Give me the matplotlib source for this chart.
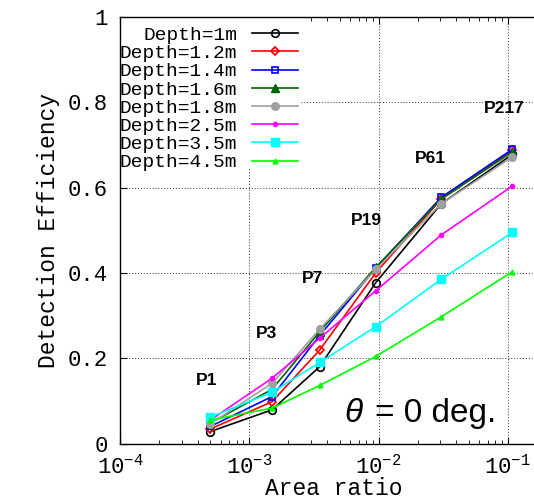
import math
import matplotlib
matplotlib.use("Agg")
import matplotlib.pyplot as plt
from matplotlib.ticker import LogLocator, FixedLocator, FuncFormatter, NullFormatter
from matplotlib.patches import Rectangle

# ---------------- data ----------------
pixel_counts = [1, 3, 7, 19, 61, 217]
area_ratio = [5.0e-4, 1.5e-3, 3.5e-3, 9.5e-3, 3.05e-2, 1.085e-1]
point_labels = ["P1", "P3", "P7", "P19", "P61", "P217"]
label_x = [4.7e-4, 1.35e-3, 3.06e-3, 8.0e-3, 2.5e-2, 9.4e-2]
label_y = [0.147, 0.257, 0.387, 0.524, 0.669, 0.786]

depth_labels = ["Depth=1m", "Depth=1.2m", "Depth=1.4m", "Depth=1.6m",
                "Depth=1.8m", "Depth=2.5m", "Depth=3.5m", "Depth=4.5m"]
eff_1m  = [0.028, 0.079, 0.180, 0.377, 0.562, 0.678]
eff_12m = [0.034, 0.098, 0.219, 0.400, 0.573, 0.687]
eff_14m = [0.040, 0.110, 0.253, 0.411, 0.577, 0.690]
eff_16m = [0.048, 0.127, 0.262, 0.413, 0.573, 0.684]
eff_18m = [0.046, 0.141, 0.268, 0.408, 0.562, 0.672]
eff_25m = [0.055, 0.153, 0.247, 0.358, 0.489, 0.604]
eff_35m = [0.062, 0.120, 0.190, 0.274, 0.385, 0.495]
eff_45m = [0.055, 0.083, 0.136, 0.204, 0.297, 0.403]
series = [eff_1m, eff_12m, eff_14m, eff_16m, eff_18m, eff_25m, eff_35m, eff_45m]

y_ticks = [0, 0.2, 0.4, 0.6, 0.8, 1]
y_ticklabels = ["0", "0.2", "0.4", "0.6", "0.8", "1"]
x_ticks = [1e-4, 1e-3, 1e-2, 1e-1]

# ---------------- styles ----------------
styles = [
    dict(color="black", marker="o", mfc="none", ms=5.5, mew=1.2),
    dict(color="#ff0000", marker="D", mfc="none", ms=4.5, mew=1.3),
    dict(color="#0000ff", marker="s", mfc="none", ms=5, mew=1.2),
    dict(color="#006400", marker="^", mfc="#006400", ms=5.5, mew=1),
    dict(color="#a0a0a0", marker="o", mfc="#a0a0a0", ms=5.5, mew=1),
    dict(color="#ff00ff", marker="o", mfc="#ff00ff", ms=3, mew=1),
    dict(color="#00ffff", marker="s", mfc="#00ffff", ms=5.5, mew=1),
    dict(color="#00ff00", marker="^", mfc="#00ff00", ms=3.5, mew=1),
]

mono = "Liberation Mono"
sans = "Liberation Sans"
plt.rcParams["font.family"] = [mono, "DejaVu Sans"]
plt.rcParams["mathtext.fontset"] = "custom"
plt.rcParams["mathtext.rm"] = mono
plt.rcParams["mathtext.default"] = "rm"

fig = plt.figure(figsize=(5.34, 5.03), dpi=100)
W, H = 534.0, 503.0
ax_left_px, ax_bottom_px, ax_top_px = 120.0, 443.5, 17.0
ax_w_px = 426.8
ax = fig.add_axes([ax_left_px / W, (H - ax_bottom_px) / H,
                   ax_w_px / W, (ax_bottom_px - ax_top_px) / H])

ax.set_xscale("log")
ax.set_xlim(1e-4, 0.2)
ax.set_ylim(0, 1)

ax.grid(True, which="major", color="#333333", linestyle=(0, (1, 2)), linewidth=0.7)

# white box behind legend (covers grid)
ax.add_patch(Rectangle((0, 0.646), 0.422, 0.36, transform=ax.transAxes,
                       facecolor="white", edgecolor="none", zorder=1.6))

for ys, lab, st in zip(series, depth_labels, styles):
    ax.plot(area_ratio, ys, label=lab, lw=1.2, color=st["color"], marker=st["marker"],
            mfc=st["mfc"], mec=st["color"], ms=st["ms"], mew=st["mew"], zorder=3)

for lx, ly, t in zip(label_x, label_y, point_labels):
    ax.text(lx, ly, t, family=sans, weight="bold", fontsize=12.5,
            ha="center", va="center", zorder=4)

ax.text(5.4e-3, 0.070, "θ", family=sans, style="italic", fontsize=24,
        ha="left", va="center")
ax.text(0.081, 0.070, "= 0 deg.", family=sans, fontsize=24,
        ha="right", va="center")

leg = ax.legend(loc="upper right", bbox_to_anchor=(0.418, 0.978),
                markerfirst=False, frameon=False, prop={"family": mono, "size": 14},
                handlelength=2.4, handletextpad=0.75, labelspacing=0.03,
                borderpad=0, borderaxespad=0)

# ticks
ax.set_yticks(y_ticks)
ax.set_yticklabels(y_ticklabels)
ax.yaxis.set_ticks_position("left")
ax.tick_params(axis="y", which="major", direction="in", length=5, width=0.8,
               labelsize=16, pad=9)
ax.xaxis.set_major_locator(FixedLocator(x_ticks))
ax.xaxis.set_minor_locator(LogLocator(base=10, subs=range(2, 10)))
ax.xaxis.set_minor_formatter(NullFormatter())
ax.xaxis.set_major_formatter(FuncFormatter(
    lambda v, p: r"$10^{%d}$" % round(math.log10(v))))
ax.tick_params(axis="x", which="both", direction="in", top=True, bottom=True,
               labelsize=16, pad=8)
ax.tick_params(axis="x", which="major", length=5, width=0.8)
ax.tick_params(axis="x", which="minor", length=3, width=0.6)

for s in ax.spines.values():
    s.set_linewidth(1.0)

ax.set_xlabel("Area ratio", fontsize=16.5, labelpad=-1)
ax.set_ylabel("Detection Efficiency", fontsize=16.5, labelpad=5)

fig.savefig("out.png", dpi=100)
